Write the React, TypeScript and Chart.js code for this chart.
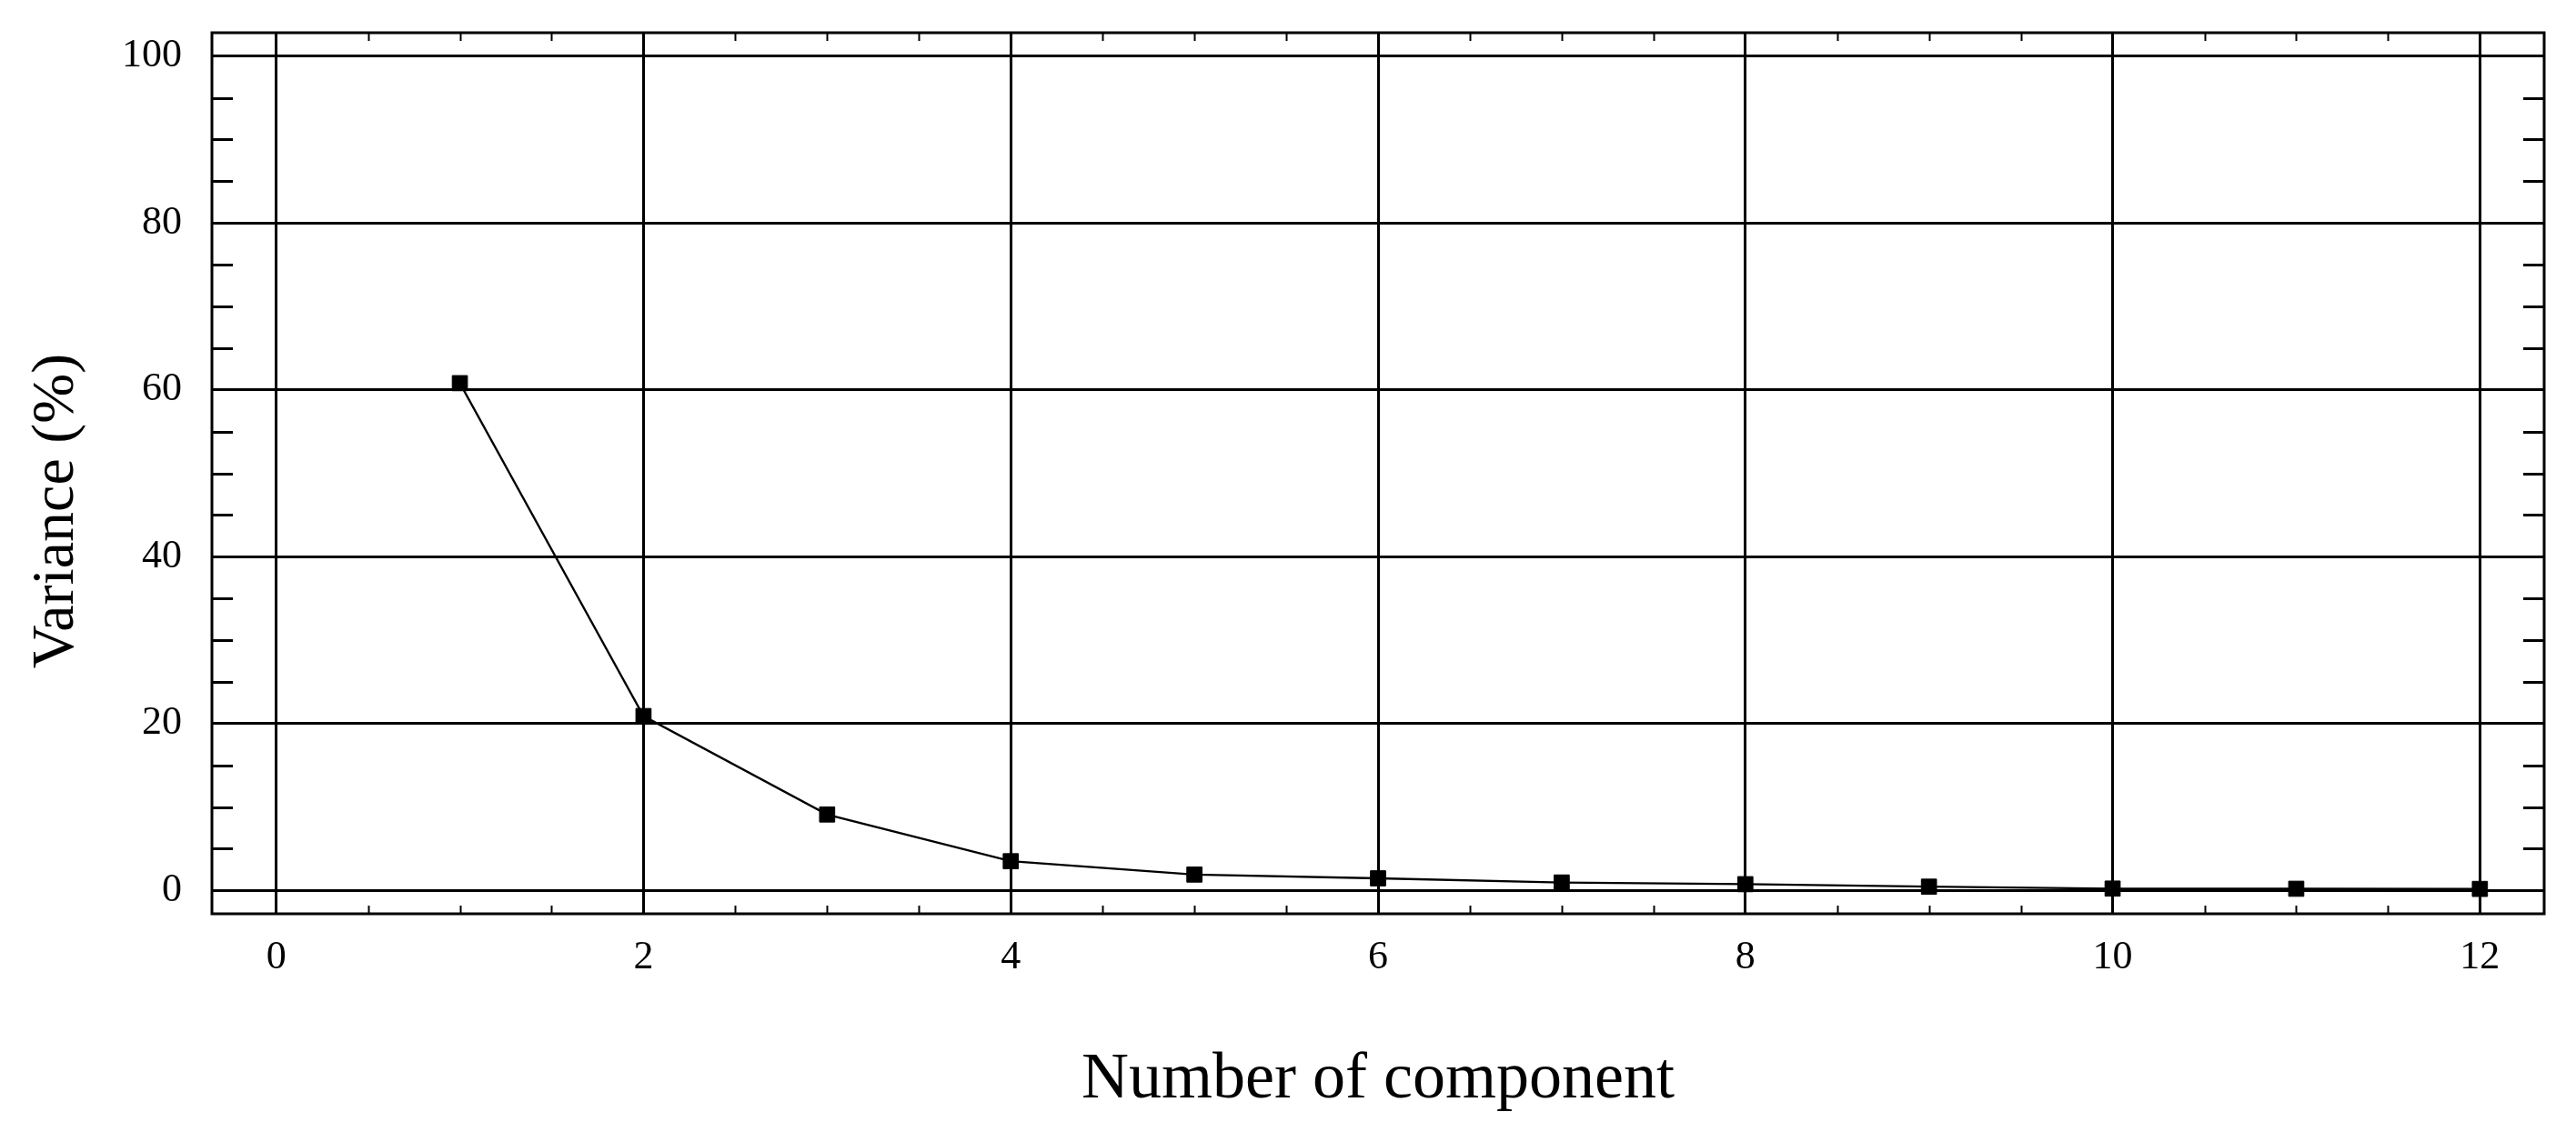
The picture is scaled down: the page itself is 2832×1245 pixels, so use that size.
import React, { useEffect, useRef } from "react";
import { Chart, registerables } from "chart.js";

Chart.register(...registerables);

// ---- data ----
const components = [1, 2, 3, 4, 5, 6, 7, 8, 9, 10, 11, 12];
const variance = [60.8, 20.9, 9.1, 3.5, 1.9, 1.45, 0.95, 0.75, 0.45, 0.22, 0.2, 0.18];
const xTicks = [0, 2, 4, 6, 8, 10, 12];
const yTicks = [0, 20, 40, 60, 80, 100];
const xMinorStep = 0.5;
const yMinorStep = 5;
const xTitle = "Number of component";
const yTitle = "Variance (%)";

const FONT = '"Liberation Serif", "Times New Roman", serif';

const framePlugin = {
  id: "frameAndMinorTicks",
  afterDraw(chart: any) {
    const { ctx, chartArea: a, scales } = chart;
    const xs = scales.x;
    const ys = scales.y;
    ctx.save();
    ctx.strokeStyle = "#000";
    const seg = (x1: number, y1: number, x2: number, y2: number) => {
      ctx.beginPath();
      ctx.moveTo(x1, y1);
      ctx.lineTo(x2, y2);
      ctx.stroke();
    };
    // x minor ticks (inward, top & bottom)
    ctx.lineWidth = 2;
    for (let v = Math.ceil(xs.min / xMinorStep) * xMinorStep; v <= xs.max + 1e-9; v += xMinorStep) {
      if (xTicks.some((t) => Math.abs(t - v) < 1e-9)) continue;
      const px = Math.round(xs.getPixelForValue(v)) + 0.5;
      seg(px, a.bottom, px, a.bottom - 9);
      seg(px, a.top, px, a.top + 9);
    }
    // y minor ticks (inward, left & right)
    ctx.lineWidth = 3;
    for (let v = Math.ceil(ys.min / yMinorStep) * yMinorStep; v <= ys.max + 1e-9; v += yMinorStep) {
      if (yTicks.some((t) => Math.abs(t - v) < 1e-9)) continue;
      const py = Math.round(ys.getPixelForValue(v)) + 0.5;
      seg(a.left, py, a.left + 23, py);
      seg(a.right, py, a.right - 23, py);
    }
    // frame
    ctx.lineWidth = 3;
    ctx.strokeRect(a.left, a.top, a.right - a.left, a.bottom - a.top);
    // y axis title
    ctx.fillStyle = "#000";
    ctx.font = `66px ${FONT}`;
    ctx.translate(80, 562);
    ctx.rotate(-Math.PI / 2);
    ctx.textAlign = "center";
    ctx.textBaseline = "alphabetic";
    ctx.fillText(yTitle, 0, 0);
    ctx.restore();
  },
};

export default function App() {
  const canvasRef = useRef<HTMLCanvasElement | null>(null);

  useEffect(() => {
    document.body.style.margin = "0";
    const canvas = canvasRef.current;
    if (!canvas) return;
    const chart = new Chart(canvas, {
      type: "line",
      data: {
        datasets: [
          {
            data: components.map((c, i) => ({ x: c, y: variance[i] })),
            borderColor: "#000",
            borderWidth: 2.3,
            backgroundColor: "#000",
            pointStyle: "rect",
            pointRadius: 11.8,
            pointBorderWidth: 1,
            pointBackgroundColor: "#000",
            pointBorderColor: "#000",
            tension: 0,
            fill: false,
          },
        ],
      },
      options: {
        responsive: false,
        animation: false,
        devicePixelRatio: 1,
        layout: { padding: { top: 36, right: 35, left: 0, bottom: 0 } },
        plugins: {
          legend: { display: false },
          tooltip: { enabled: false },
        },
        scales: {
          x: {
            type: "linear",
            min: -0.35,
            max: 12.35,
            afterBuildTicks: (s: any) => {
              s.ticks = xTicks.map((v) => ({ value: v }));
            },
            afterFit: (s: any) => {
              s.height = 240;
              s.paddingLeft = 0;
              s.paddingRight = 0;
            },
            grid: { color: "#000", lineWidth: 3, drawTicks: false },
            border: { display: false },
            ticks: {
              color: "#000",
              padding: 22,
              font: { family: FONT, size: 44 },
              autoSkip: false,
              maxRotation: 0,
            },
            title: {
              display: true,
              text: xTitle,
              color: "#000",
              font: { family: FONT, size: 72 },
              padding: { top: 0, bottom: 14 },
            },
          },
          y: {
            type: "linear",
            min: -2.8,
            max: 102.8,
            afterBuildTicks: (s: any) => {
              s.ticks = yTicks.map((v) => ({ value: v }));
            },
            afterFit: (s: any) => {
              s.width = 233;
              s.paddingTop = 0;
              s.paddingBottom = 0;
            },
            grid: { color: "#000", lineWidth: 3, drawTicks: false },
            border: { display: false },
            ticks: {
              color: "#000",
              padding: 33,
              font: { family: FONT, size: 44 },
            },
          },
        },
      },
      plugins: [framePlugin],
    });
    return () => chart.destroy();
  }, []);

  return (
    <div style={{ width: 2832, height: 1245, background: "#fff" }}>
      <canvas ref={canvasRef} width={2832} height={1245} style={{ display: "block" }} />
    </div>
  );
}
